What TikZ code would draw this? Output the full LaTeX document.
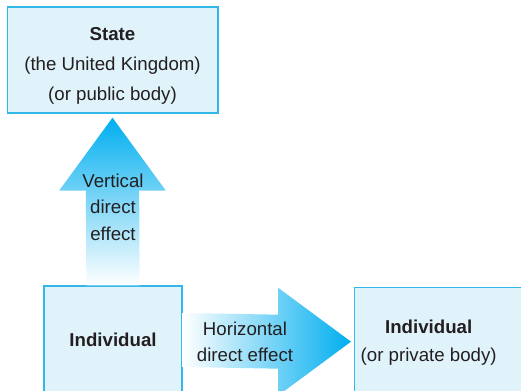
\documentclass[tikz,border=0pt]{standalone}
\usepackage{fontspec}
\setmainfont{Liberation Sans}
\usetikzlibrary{positioning}
\definecolor{boxfill}{HTML}{E0F3FB}
\definecolor{boxline}{HTML}{33B7E8}
\definecolor{arrowblue}{HTML}{00AEEF}
\definecolor{inktext}{HTML}{231F20}
\tikzset{
  boxnode/.style={shape=rectangle, draw=boxline, line width=1pt, fill=boxfill,
    text=inktext, align=center, font=\fontsize{14}{21}\selectfont},
  arrowtext/.style={text=inktext, align=center, font=\fontsize{14}{20}\selectfont}
}

\begin{document}
\begin{tikzpicture}[x=0.75pt,y=-0.75pt]
    \useasboundingbox (0,0) rectangle (521,391);
    \clip (0,0) rectangle (521,391);

    % the three parties
    \node[boxnode, minimum width=158pt, minimum height=79.5pt,
          label={[arrowtext, font=\fontsize{14}{22.5}\selectfont, yshift=-4.5pt]center:{\textbf{State}\\(the United Kingdom)\\(or public body)}}]
          (state) at (112.5,60) {};
    \node[boxnode, minimum width=103.5pt, minimum height=81pt] (indl) at (113,340) {\textbf{Individual}};
    \node[boxnode, minimum width=150pt, minimum height=81pt, anchor=north west,
          label={[arrowtext, font=\fontsize{14}{21}\selectfont, xshift=-19.5pt, yshift=-1pt]center:{\textbf{Individual}\\(or private body)}}]
          (indr) at (354,287) {};

    % vertical block arrow
    \path[top color=arrowblue, middle color=arrowblue!55!white, bottom color=white]
      ([xshift=-20pt]indl.north) -- ([xshift=-20pt,yshift=-57.75pt]state.south)
      -- ([xshift=-40pt,yshift=-57.75pt]state.south) -- ([yshift=-3pt]state.south)
      -- ([xshift=40pt,yshift=-57.75pt]state.south) -- ([xshift=20pt,yshift=-57.75pt]state.south)
      -- ([xshift=20pt]indl.north) -- cycle;
    \node[arrowtext] (vert) at (113,207) {Vertical\\direct\\effect};

    % horizontal block arrow
    \path[left color=white, middle color=arrowblue!50!white, right color=arrowblue]
      ([yshift=20.25pt]indl.east) -- ([xshift=-57pt,yshift=20.25pt]indr.west)
      -- ([xshift=-57pt,yshift=40.5pt]indr.west) -- ([xshift=-2.25pt]indr.west)
      -- ([xshift=-57pt,yshift=-40.5pt]indr.west) -- ([xshift=-57pt,yshift=-20.25pt]indr.west)
      -- ([yshift=-20.25pt]indl.east) -- cycle;
    \node[arrowtext, font=\fontsize{14}{19.5}\selectfont] (horiz) at (245,342) {Horizontal\\direct effect};
\end{tikzpicture}
\end{document}
